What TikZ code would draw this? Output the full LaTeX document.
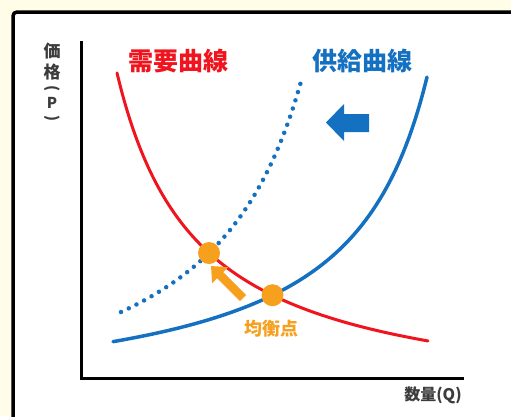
\documentclass[tikz,border=0pt]{standalone}
\usepackage{fontspec}
\newfontfamily\jp{Noto Sans CJK JP}
\usetikzlibrary{arrows.meta}
\definecolor{cream}{RGB}{255,253,232}
\definecolor{dred}{RGB}{240,20,30}
\definecolor{sblue}{RGB}{20,112,192}
\definecolor{eqorange}{RGB}{246,160,30}
\definecolor{labgray}{RGB}{60,60,60}
\tikzset{
  lbl/.style={inner sep=0pt, font=\jp\bfseries},
  axis/.style={line width=3pt, black},
  demand/.style={line width=3pt, dred, line cap=round},
  supply/.style={line width=3.5pt, sblue, line cap=round},
  dotsupply/.style={line width=4.5pt, sblue, line cap=round, dash pattern=on 0pt off 8.6pt},
  eqdot/.style={circle, fill=eqorange, minimum size=22pt, inner sep=0pt},
}
\begin{document}
\begin{tikzpicture}[x=1pt,y=-1pt]
\useasboundingbox (0,0) rectangle (511,416);
\fill[cream] (0,0) rectangle (511,416);
\begin{scope}
\clip (0,0) rectangle (511,416);
\draw[line width=3.5pt, fill=white, rounded corners=4pt] (13,12) rectangle (540,440);
\end{scope}
% axes
\coordinate (origin) at (81,378);
\coordinate (ytop) at (81,41);
\coordinate (xend) at (464,378);
\draw[axis] (ytop) -- (origin) -- (xend);
% y label
\node[lbl, labgray, font=\jp\bfseries\fontsize{17}{17}\selectfont] (p1) at (52,51) {価};
\node[lbl, labgray, font=\jp\bfseries\fontsize{17}{17}\selectfont] (p2) at (52,72) {格};
\node[lbl, labgray, rotate=-90, font=\jp\bfseries\fontsize{15}{15}\selectfont] (p3) at (52,88) {(};
\node[lbl, labgray, font=\jp\bfseries\fontsize{15}{15}\selectfont] (p4) at (52,103) {P};
\node[lbl, labgray, rotate=-90, font=\jp\bfseries\fontsize{15}{15}\selectfont] (p5) at (52,118) {)};
% x label
\node[lbl, labgray, font=\jp\bfseries\fontsize{16}{16}\selectfont] (xl) at (433,395) {数量(Q)};
% titles
\node[lbl, dred, font=\jp\bfseries\fontsize{25}{25}\selectfont] (dt) at (178,61) {需要曲線};
\node[lbl, sblue, font=\jp\bfseries\fontsize{25}{25}\selectfont] (st) at (362,61) {供給曲線};
% curves
\draw[dotsupply] plot[domain=121:302, samples=60, smooth] (\x, {441.6 - 364.36*(100/(402.2-\x))});
\draw[supply] plot[domain=113:427, samples=80, smooth] (\x, {410.4 - 271.98*(100/(508.6-\x))});
\draw[demand] plot[domain=117:428, samples=80, smooth] (\x, {410.4 - 271.98*(100/(\x-36.4))});
% equilibrium points
\node[eqdot] (e1) at (209,253) {};
\node[eqdot] (e0) at (272.5,295.2) {};
\node[lbl, eqorange, font=\jp\bfseries\fontsize{18}{18}\selectfont] (el) at (271,329) {均衡点};
% orange arrow
\coordinate (oa0) at (243,298);
\coordinate (oa1) at (211,266);
\draw[line width=8.5pt, eqorange, -{Triangle[width=22pt,length=13pt]}] (oa0) -- (oa1);
% blue shift arrow
\fill[sblue] (326,122.5) -- (344,104) -- (344,114) -- (369,114) -- (369,132) -- (344,132) -- (344,141) -- cycle;
\end{tikzpicture}
\end{document}
